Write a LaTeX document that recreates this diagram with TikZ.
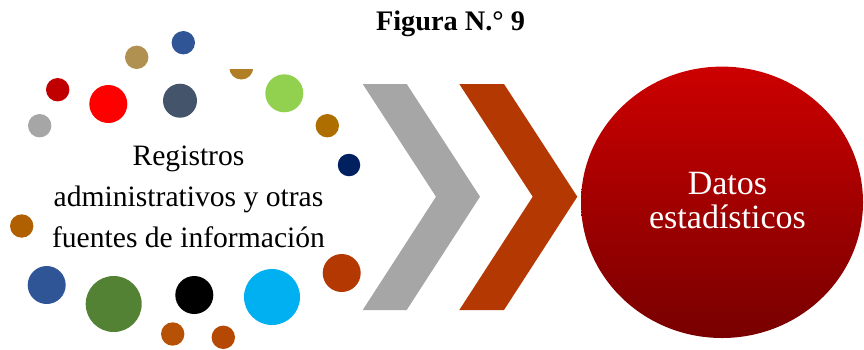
\documentclass[tikz,border=0pt]{standalone}
\usepackage{fontspec}
\setmainfont{Liberation Serif}
\usetikzlibrary{shapes.geometric}
\definecolor{ctan}{HTML}{B09152}
\definecolor{cblue}{HTML}{2F5597}
\definecolor{cdred}{HTML}{C00000}
\definecolor{cred}{HTML}{FF0000}
\definecolor{cslate}{HTML}{44546A}
\definecolor{cgold}{HTML}{B07E24}
\definecolor{clgreen}{HTML}{92D050}
\definecolor{cochre}{HTML}{AF6F00}
\definecolor{cgray}{HTML}{A6A6A6}
\definecolor{cnavy}{HTML}{002060}
\definecolor{corange}{HTML}{B06000}
\definecolor{cgreen}{HTML}{548235}
\definecolor{ccyan}{HTML}{00B0F0}
\definecolor{crust}{HTML}{B43802}
\definecolor{corg2}{HTML}{B65105}
\definecolor{corg3}{HTML}{B54802}
\definecolor{ctop}{HTML}{CC0000}
\definecolor{cbot}{HTML}{780000}
\tikzset{
  dot/.style={circle, inner sep=0pt, minimum size=#1, draw=none},
  lefttext/.style={anchor=base, inner sep=0pt, font=\fontsize{29.6}{36}\selectfont},
  righttext/.style={anchor=base, inner sep=0pt, text=white, font=\fontsize{34}{38}\selectfont},
  chev/.style={draw=none}
}
\begin{document}
\begin{tikzpicture}[x=1pt,y=-1pt]
\useasboundingbox (0,0) rectangle (864,349);
% title
\node[anchor=base, inner sep=0pt, font=\fontsize{28.3}{32}\selectfont\bfseries] (title) at (450.5,30) {Figura N.\textdegree{} 9};
% dots
\node[dot=23.4pt, fill=ctan] (c1) at (136.7,57.3) {};
\node[dot=23.4pt, fill=cblue] (c2) at (183.3,42.7) {};
\node[dot=23.4pt, fill=cdred] (c3) at (57.7,89.7) {};
\node[dot=38pt, fill=cred] (c4) at (108.3,104) {};
\node[dot=34pt, fill=cslate] (c5) at (180,100.7) {};
\begin{scope}
\clip (220,69.7) rectangle (265,90);
\node[dot=24pt, fill=cgold] (c6) at (241.3,67.5) {};
\end{scope}
\node[dot=38pt, fill=clgreen] (c7) at (284.3,93.3) {};
\node[dot=23.4pt, fill=cochre] (c8) at (327.3,125.7) {};
\node[dot=23.4pt, fill=cgray] (c9) at (39.7,125.7) {};
\node[dot=22.5pt, fill=cnavy] (c10) at (349,165) {};
\node[dot=23.4pt, fill=corange] (c11) at (21.7,226) {};
\node[dot=38pt, fill=cblue] (c12) at (46.7,285) {};
\node[dot=56pt, fill=cgreen] (c13) at (113.7,304) {};
\node[dot=38pt, fill=black] (c14) at (194.3,295) {};
\node[dot=56pt, fill=ccyan] (c15) at (272,297) {};
\node[dot=38pt, fill=crust] (c16) at (341.7,273) {};
\node[dot=23.4pt, fill=corg2] (c17) at (172.7,334) {};
\node[dot=23.4pt, fill=corg3] (c18) at (223.3,337.3) {};
% left text
\node[lefttext] (l1) at (188.5,165) {Registros};
\node[lefttext] (l2) at (188.5,206) {administrativos y otras};
\node[lefttext] (l3) at (188.5,247) {fuentes de información};
% chevrons
\fill[cgray, chev] (362.7,84) -- (406.7,84) -- (480,196.7) -- (406.7,310) -- (362.7,310) -- (436,196.7) -- cycle;
\fill[crust, chev] (459.3,84) -- (504,84) -- (577.3,196.7) -- (504,310) -- (459.3,310) -- (532.7,196.7) -- cycle;
% result ellipse
\node[ellipse, inner sep=0pt, minimum width=282pt, minimum height=271.4pt, top color=ctop, bottom color=cbot, draw=none] (ds) at (722,202.3) {};
\node[righttext] (r1) at (727.5,194) {Datos};
\node[righttext] (r2) at (727.5,228) {estadísticos};
\end{tikzpicture}
\end{document}
